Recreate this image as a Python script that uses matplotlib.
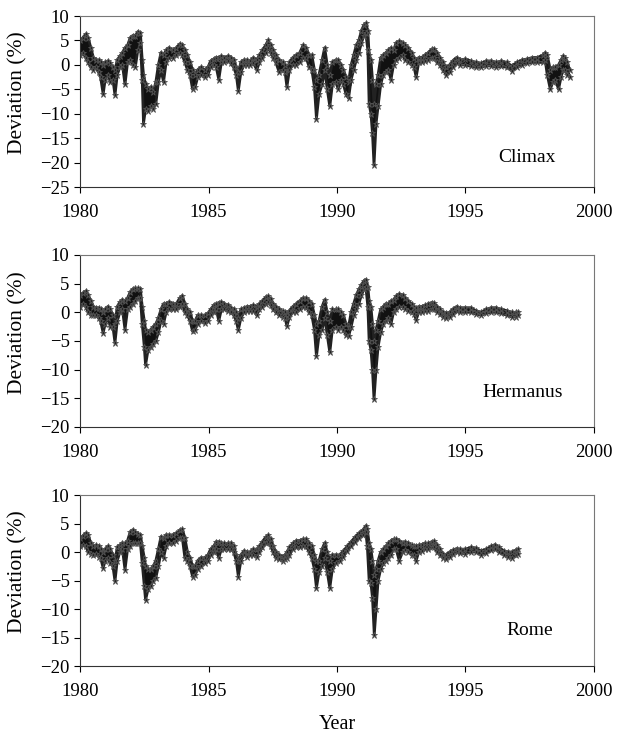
import matplotlib
matplotlib.use("Agg")
import matplotlib.pyplot as plt

plt.rcParams["font.family"] = ["Liberation Serif", "DejaVu Serif"]

# ---- Climax: time (yr), upper and lower edge of the daily scatter (%)
climax_t = [1980.00, 1980.10, 1980.22, 1980.32, 1980.42, 1980.52, 1980.62, 1980.72, 1980.80, 1980.90,
            1980.98, 1981.08, 1981.18, 1981.28, 1981.36, 1981.45, 1981.55, 1981.65, 1981.75, 1981.85,
            1981.95, 1982.05, 1982.15, 1982.25, 1982.35, 1982.42, 1982.47, 1982.55, 1982.65, 1982.75,
            1982.85, 1982.95, 1983.05, 1983.15, 1983.25, 1983.35, 1983.45, 1983.60, 1983.75, 1983.88,
            1983.98, 1984.08, 1984.18, 1984.28, 1984.38, 1984.48, 1984.58, 1984.70, 1984.85, 1984.98,
            1985.08, 1985.20, 1985.30, 1985.40, 1985.50, 1985.62, 1985.75, 1985.88, 1985.98, 1986.08,
            1986.16, 1986.26, 1986.38, 1986.50, 1986.62, 1986.75, 1986.88, 1986.98, 1987.10, 1987.22,
            1987.32, 1987.42, 1987.52, 1987.62, 1987.75, 1987.88, 1987.98, 1988.05, 1988.15, 1988.28,
            1988.42, 1988.55, 1988.68, 1988.80, 1988.92, 1989.02, 1989.12, 1989.20, 1989.30, 1989.42,
            1989.52, 1989.62, 1989.72, 1989.82, 1989.95, 1990.05, 1990.15, 1990.25, 1990.35, 1990.45,
            1990.55, 1990.65, 1990.75, 1990.85, 1990.95, 1991.05, 1991.12, 1991.20, 1991.25, 1991.32,
            1991.38, 1991.44, 1991.52, 1991.60, 1991.70, 1991.80, 1991.90, 1992.00, 1992.10, 1992.20,
            1992.30, 1992.42, 1992.55, 1992.65, 1992.78, 1992.90, 1993.00, 1993.08, 1993.18, 1993.30,
            1993.42, 1993.55, 1993.68, 1993.78, 1993.90, 1994.00, 1994.12, 1994.25, 1994.38, 1994.50,
            1994.65, 1994.80, 1995.00, 1995.20, 1995.40, 1995.60, 1995.80, 1996.00, 1996.20, 1996.40,
            1996.60, 1996.80, 1997.00, 1997.20, 1997.40, 1997.60, 1997.80, 1998.00, 1998.10, 1998.18,
            1998.30, 1998.40, 1998.50, 1998.62, 1998.72, 1998.80, 1998.88, 1998.96, 1999.05]
climax_hi = [5.0, 5.5, 6.3, 5.5, 3.5, 1.5, 1.0, 1.0, 0.5, 0.0,
             0.5, 0.8, 0.3, -0.5, -1.0, 1.0, 1.8, 2.5, 3.5, 4.0,
             5.5, 6.0, 6.0, 6.8, 6.5, 1.0, -2.0, -4.0, -5.0, -4.5,
             -5.5, -3.5, 0.0, 2.5, 2.0, 3.0, 3.5, 3.0, 3.5, 4.3,
             4.0, 3.0, 2.0, 0.5, -1.0, -2.0, -1.0, -0.5, -1.0, -0.5,
             0.8, 1.2, 1.5, 1.5, 1.8, 1.5, 1.8, 1.5, 1.0, -0.5,
             -1.5, 0.5, 1.0, 1.0, 0.8, 1.5, 1.0, 2.0, 3.0, 4.0,
             5.0, 4.0, 3.0, 2.0, 1.0, 0.5, 0.0, -1.5, 0.5, 1.5,
             2.0, 2.5, 4.0, 3.5, 2.0, 2.0, -1.0, -3.0, -2.0, 1.0,
             3.5, 0.0, -2.0, 0.5, 1.0, 1.0, 0.0, -1.0, -2.5, -3.5,
             0.0, 2.0, 4.0, 5.0, 7.0, 8.2, 8.5, 7.0, 2.0, 1.0,
             -3.0, -8.0, -4.0, -2.0, 1.5, 2.0, 2.5, 3.0, 3.5, 3.0,
             4.5, 4.8, 4.5, 4.0, 3.5, 2.5, 1.5, 1.0, 1.5, 1.5,
             2.0, 2.5, 3.2, 3.3, 2.5, 1.5, 0.5, -0.5, 0.0, 0.8,
             1.5, 1.0, 1.2, 0.8, 0.5, 0.3, 0.8, 0.8, 0.5, 0.8,
             0.5, -0.2, 0.5, 1.0, 1.2, 1.5, 1.5, 2.0, 2.5, 2.0,
             -1.0, -0.5, -0.5, 0.0, 1.0, 1.8, 1.5, 0.5, -1.0]
climax_lo = [2.0, 2.5, 1.5, 0.5, -0.5, -1.0, -0.5, -1.5, -2.5, -6.0,
             -3.0, -2.0, -3.5, -3.0, -6.2, -2.0, -0.5, 0.0, -4.0, 0.5,
             1.0, 0.0, -0.5, 3.0, 4.5, -3.0, -12.0, -9.0, -9.5, -8.5,
             -9.0, -8.0, -3.5, -1.0, -3.5, 0.5, 1.5, 1.5, 2.0, 2.5,
             2.0, 0.5, -1.0, -2.0, -5.0, -4.5, -2.5, -2.0, -2.5, -2.0,
             -0.5, 0.0, -0.5, -3.0, 0.5, 0.5, 0.8, 0.3, -0.5, -2.0,
             -5.3, -1.5, 0.0, 0.0, 0.0, 0.3, -1.0, 0.5, 1.5, 2.5,
             3.5, 2.5, 1.5, 0.5, -1.5, -1.0, -1.5, -4.5, -1.0, 0.0,
             0.0, 0.5, 1.5, 1.5, -0.5, -1.0, -4.5, -11.0, -6.0, -4.0,
             -1.0, -5.0, -8.5, -4.0, -3.5, -5.0, -3.0, -4.0, -6.0, -6.8,
             -3.0, -1.0, 1.0, 2.5, 4.5, 6.0, 6.5, 3.0, -8.0, -10.0,
             -14.0, -20.5, -12.0, -8.5, -4.0, -2.0, -1.5, -1.0, -3.0, 0.0,
             1.0, 1.5, 2.0, 1.0, 0.5, 0.0, -0.5, -2.5, 0.5, 0.5,
             0.8, 1.0, 1.5, 1.5, 0.5, 0.0, -1.0, -2.0, -1.5, -0.5,
             0.3, 0.0, 0.0, -0.3, -0.5, -0.5, -0.2, -0.2, -0.5, -0.3,
             -0.5, -1.2, -0.5, 0.0, 0.3, 0.5, 0.5, 0.5, 1.0, -2.0,
             -5.0, -3.5, -3.0, -5.0, -2.5, -1.0, -1.0, -2.0, -2.5]

# ---- Hermanus
herm_t = [1980.00, 1980.10, 1980.22, 1980.32, 1980.42, 1980.52, 1980.62, 1980.72, 1980.80, 1980.90,
          1980.98, 1981.08, 1981.18, 1981.28, 1981.36, 1981.45, 1981.55, 1981.65, 1981.75, 1981.85,
          1981.95, 1982.05, 1982.15, 1982.25, 1982.35, 1982.42, 1982.50, 1982.55, 1982.65, 1982.75,
          1982.85, 1982.95, 1983.05, 1983.15, 1983.25, 1983.35, 1983.45, 1983.60, 1983.75, 1983.88,
          1983.98, 1984.08, 1984.18, 1984.28, 1984.38, 1984.48, 1984.58, 1984.70, 1984.85, 1984.98,
          1985.08, 1985.20, 1985.30, 1985.40, 1985.50, 1985.62, 1985.75, 1985.88, 1985.98, 1986.08,
          1986.16, 1986.26, 1986.38, 1986.50, 1986.62, 1986.75, 1986.88, 1986.98, 1987.10, 1987.22,
          1987.32, 1987.42, 1987.52, 1987.62, 1987.75, 1987.88, 1987.98, 1988.05, 1988.15, 1988.28,
          1988.42, 1988.55, 1988.68, 1988.80, 1988.92, 1989.02, 1989.12, 1989.20, 1989.30, 1989.42,
          1989.52, 1989.62, 1989.72, 1989.82, 1989.95, 1990.05, 1990.15, 1990.25, 1990.35, 1990.45,
          1990.55, 1990.65, 1990.75, 1990.85, 1990.95, 1991.05, 1991.12, 1991.20, 1991.25, 1991.32,
          1991.38, 1991.44, 1991.52, 1991.60, 1991.70, 1991.80, 1991.90, 1992.00, 1992.10, 1992.20,
          1992.30, 1992.42, 1992.55, 1992.65, 1992.78, 1992.90, 1993.00, 1993.08, 1993.18, 1993.30,
          1993.42, 1993.55, 1993.68, 1993.78, 1993.90, 1994.00, 1994.12, 1994.25, 1994.38, 1994.50,
          1994.65, 1994.80, 1995.00, 1995.20, 1995.40, 1995.60, 1995.80, 1996.00, 1996.20, 1996.40,
          1996.60, 1996.80, 1996.95, 1997.05]
herm_hi = [3.0, 3.3, 3.7, 3.0, 2.0, 1.0, 0.8, 0.8, 0.5, 0.0,
           0.5, 1.0, 0.5, -0.5, -2.0, 1.0, 1.8, 2.2, 2.0, 2.5,
           3.5, 4.0, 4.2, 4.2, 4.0, 1.0, -1.5, -3.0, -3.5, -3.0,
           -2.5, -2.0, -1.0, 0.5, 1.5, 1.5, 1.8, 1.5, 1.5, 2.5,
           2.9, 1.5, 0.5, 0.0, -1.5, -1.5, -0.5, -0.5, -0.5, -0.2,
           0.5, 1.2, 1.5, 1.7, 1.8, 1.5, 1.3, 0.8, 0.5, 0.0,
           -1.0, 0.5, 0.8, 1.0, 1.0, 1.2, 1.0, 1.5, 2.0, 2.6,
           2.8, 2.3, 1.5, 1.0, 0.5, 0.2, 0.0, -0.5, 0.3, 1.0,
           1.5, 2.0, 2.5, 2.5, 2.0, 1.5, -0.5, -2.0, -1.5, 1.0,
           2.2, 0.0, -1.5, 0.5, 0.5, 0.5, 0.0, -0.5, -2.0, -2.5,
           0.0, 1.5, 3.0, 4.0, 4.8, 5.5, 5.7, 4.5, 2.0, 1.0,
           -2.0, -5.0, -3.0, -1.5, 0.5, 1.0, 1.5, 1.5, 2.0, 2.2,
           2.8, 3.2, 3.0, 2.5, 2.0, 1.5, 1.0, 0.8, 1.0, 1.0,
           1.2, 1.5, 1.7, 1.6, 1.0, 0.5, 0.0, -0.2, 0.0, 0.5,
           1.0, 0.8, 0.8, 0.8, 0.3, 0.0, 0.5, 0.8, 0.8, 0.5,
           0.3, 0.0, 0.0, 0.0]
herm_lo = [1.0, 1.5, 1.0, 0.0, -0.5, -0.5, -0.5, -1.0, -1.5, -3.6,
           -2.0, -1.0, -2.5, -2.5, -5.3, -1.5, 0.0, 0.5, -3.0, 0.5,
           1.0, 1.5, 2.0, 2.5, 2.5, -2.0, -6.0, -9.2, -6.5, -6.0,
           -5.5, -5.0, -3.5, -1.5, -2.0, 0.0, 0.5, 0.5, 0.5, 1.0,
           1.5, 0.0, -0.5, -1.5, -3.3, -3.0, -2.0, -1.5, -1.8, -1.5,
           -0.5, 0.0, 0.5, -1.5, 0.5, 0.5, 0.3, 0.0, -0.5, -1.5,
           -3.1, -1.0, 0.0, 0.3, 0.3, 0.3, -0.5, 0.5, 1.0, 1.5,
           1.8, 1.2, 0.5, 0.0, -0.5, -0.8, -1.0, -2.4, -0.8, 0.0,
           0.0, 0.5, 1.0, 1.0, 0.0, -0.5, -3.0, -7.7, -4.0, -3.0,
           -1.0, -4.0, -7.0, -3.0, -2.5, -3.0, -2.5, -3.0, -4.0, -4.2,
           -2.5, -0.5, 0.5, 1.5, 3.0, 4.0, 4.5, 1.0, -5.0, -6.5,
           -10.0, -15.2, -10.0, -6.0, -3.5, -2.0, -1.5, -1.0, -2.0, 0.0,
           0.5, 1.0, 1.0, 0.5, 0.3, 0.0, -0.3, -1.3, 0.0, 0.0,
           0.2, 0.3, 0.5, 0.5, 0.0, -0.3, -0.8, -1.0, -0.8, -0.3,
           0.2, 0.0, 0.0, 0.0, -0.3, -0.5, -0.2, 0.0, 0.0, -0.2,
           -0.5, -0.8, -0.8, -0.5]

# ---- Rome
rome_t = [1980.00, 1980.10, 1980.22, 1980.32, 1980.42, 1980.52, 1980.62, 1980.72, 1980.80, 1980.90,
          1980.98, 1981.08, 1981.18, 1981.28, 1981.36, 1981.45, 1981.55, 1981.65, 1981.75, 1981.85,
          1981.95, 1982.05, 1982.15, 1982.25, 1982.35, 1982.42, 1982.50, 1982.55, 1982.65, 1982.75,
          1982.85, 1982.95, 1983.05, 1983.15, 1983.25, 1983.35, 1983.45, 1983.60, 1983.75, 1983.88,
          1983.98, 1984.08, 1984.18, 1984.28, 1984.38, 1984.48, 1984.58, 1984.70, 1984.85, 1984.98,
          1985.08, 1985.20, 1985.30, 1985.40, 1985.50, 1985.62, 1985.75, 1985.88, 1985.98, 1986.08,
          1986.16, 1986.26, 1986.38, 1986.50, 1986.62, 1986.75, 1986.88, 1986.98, 1987.10, 1987.22,
          1987.32, 1987.42, 1987.52, 1987.62, 1987.75, 1987.88, 1987.98, 1988.05, 1988.15, 1988.28,
          1988.42, 1988.55, 1988.68, 1988.80, 1988.92, 1989.02, 1989.12, 1989.20, 1989.30, 1989.42,
          1989.52, 1989.62, 1989.72, 1989.82, 1989.95, 1990.10, 1990.25, 1990.40, 1990.55, 1990.70,
          1990.85, 1991.00, 1991.12, 1991.18, 1991.25, 1991.32, 1991.38, 1991.45, 1991.52, 1991.60,
          1991.70, 1991.80, 1991.90, 1992.00, 1992.10, 1992.20, 1992.30, 1992.42, 1992.55, 1992.65,
          1992.78, 1992.90, 1993.00, 1993.08, 1993.18, 1993.30, 1993.42, 1993.55, 1993.68, 1993.78,
          1993.90, 1994.00, 1994.12, 1994.25, 1994.38, 1994.50, 1994.65, 1994.80, 1995.00, 1995.20,
          1995.40, 1995.60, 1995.80, 1996.00, 1996.15, 1996.30, 1996.50, 1996.65, 1996.80, 1996.95,
          1997.05]
rome_hi = [2.5, 2.8, 3.3, 3.0, 1.5, 1.0, 1.2, 1.0, 0.5, 0.0,
           0.5, 1.0, 0.5, -0.5, -1.5, 0.8, 1.2, 1.6, 1.5, 2.0,
           3.5, 3.9, 3.5, 3.2, 3.0, 1.0, -1.0, -2.5, -3.0, -3.0,
           -2.5, -1.5, 0.5, 2.7, 2.5, 3.0, 3.0, 3.0, 3.3, 3.8,
           4.0, 2.5, 0.0, -1.0, -2.5, -2.5, -1.5, -1.0, -1.0, -0.5,
           0.5, 1.0, 1.8, 1.8, 1.5, 1.5, 1.5, 1.6, 1.0, -0.5,
           -1.5, -0.5, 0.2, 0.0, 0.0, 0.5, 0.5, 1.0, 1.8, 2.6,
           2.9, 2.2, 1.0, 0.0, -0.5, -0.8, -0.5, 0.0, 0.8, 1.5,
           2.0, 2.0, 2.2, 2.3, 1.5, 1.0, -0.5, -1.5, -1.5, 0.5,
           1.6, 0.0, -1.5, -0.5, -0.5, -0.5, 0.2, 1.0, 1.8, 2.6,
           3.3, 3.8, 4.6, 4.0, 1.5, 0.5, -1.5, -4.0, -3.0, -1.5,
           0.0, 0.5, 1.0, 1.5, 2.0, 2.2, 2.2, 2.0, 1.5, 1.8,
           1.5, 1.2, 1.0, 1.0, 1.2, 1.3, 1.5, 1.5, 1.8, 1.9,
           1.2, 0.5, -0.3, -0.5, 0.0, 0.3, 0.6, 0.5, 0.5, 0.8,
           0.7, 0.2, 0.5, 1.0, 1.3, 0.8, 0.2, 0.0, 0.0, 0.3,
           0.5]
rome_lo = [1.0, 1.2, 1.0, 0.0, -0.3, -0.5, -0.3, -0.8, -1.0, -2.8,
           -1.5, -1.0, -2.0, -2.5, -5.1, -1.5, 0.0, 0.5, -3.1, 0.5,
           1.0, 1.5, 1.5, 1.5, 1.5, -2.0, -6.0, -8.4, -6.5, -6.0,
           -5.0, -4.5, -2.5, 0.0, -1.0, 1.0, 1.5, 1.5, 2.0, 2.5,
           2.5, -1.0, -1.5, -2.5, -4.3, -4.0, -3.0, -2.5, -2.0, -1.5,
           -0.5, 0.0, 0.5, -1.0, 0.5, 0.5, 0.5, 0.5, 0.0, -1.5,
           -4.3, -1.5, -0.5, -0.8, -0.5, -0.5, -0.8, 0.0, 0.8, 1.5,
           1.8, 1.0, 0.0, -1.0, -1.2, -1.5, -1.3, -1.0, -0.5, 0.5,
           0.8, 0.8, 1.0, 1.0, 0.0, -1.0, -3.0, -6.3, -3.5, -2.5,
           -1.0, -3.5, -6.3, -3.0, -2.0, -1.5, -0.8, 0.2, 1.0, 1.8,
           2.5, 3.0, 3.5, 1.0, -5.0, -5.5, -8.0, -14.5, -10.0, -5.0,
           -3.0, -2.0, -1.5, -1.0, -0.5, 0.5, 0.5, -1.5, 0.0, 0.3,
           0.0, -0.5, -0.5, -1.5, 0.0, 0.2, 0.5, 0.5, 0.8, 0.8,
           0.0, -0.5, -1.0, -1.2, -0.8, -0.3, 0.0, -0.2, -0.3, 0.0,
           0.0, -0.5, -0.2, 0.3, 0.5, 0.0, -0.5, -0.8, -1.0, -0.5,
           -0.3]

panels = [
    (climax_t, climax_hi, climax_lo, "Climax", -25, (0.87, 0.175)),
    (herm_t, herm_hi, herm_lo, "Hermanus", -20, (0.862, 0.198)),
    (rome_t, rome_hi, rome_lo, "Rome", -20, (0.875, 0.21)),
]
boxes = [[0.1297, 0.7452, 0.833, 0.233],
         [0.1297, 0.4183, 0.833, 0.2343],
         [0.1297, 0.0926, 0.833, 0.233]]

fig = plt.figure(figsize=(6.17, 7.34), dpi=100)

for (t, hi, lo, name, ymin, pos), box in zip(panels, boxes):
    ax = fig.add_axes(box)
    ax.fill_between(t, lo, hi, color="#111111", lw=0)
    ax.plot(t, hi, color="#222222", lw=2.0, marker="*", ms=5, mew=0.6, mec="#555555")
    ax.plot(t, lo, color="#222222", lw=2.0, marker="*", ms=5, mew=0.6, mec="#555555")

    ax.set_xlim(1980, 2000)
    ax.set_ylim(ymin, 10)
    ax.set_xticks(range(1980, 2001, 5))
    ax.set_yticks(range(ymin, 11, 5))
    ax.tick_params(direction="out", length=4, width=0.8, labelsize=13.5, colors="black")
    ax.tick_params(axis="x", pad=8)
    for s in ["left", "bottom"]:
        ax.spines[s].set_color("#333333")
    for s in ["top", "right"]:
        ax.spines[s].set_color("#777777")
    ax.set_ylabel("Deviation (%)", fontsize=15.5)
    ax.yaxis.set_label_coords(-0.103, 0.55)
    ax.text(pos[0], pos[1], name, transform=ax.transAxes, ha="center", va="center", fontsize=14)

fig.text(0.546, 0.0123, "Year", ha="center", va="center", fontsize=14.5)

fig.savefig("out.png", dpi=100)
